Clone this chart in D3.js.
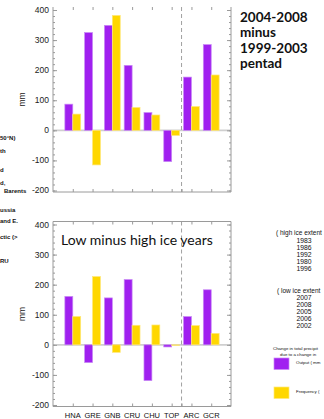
<!DOCTYPE html>
<html>
<head>
<meta charset="utf-8">
<script src="https://cdn.jsdelivr.net/npm/d3@7"></script>
<style>
  body { margin: 0; background: #fff; }
  svg { display: block; }
</style>
</head>
<body>
<div id="chart"></div>
<script>
// data (mm)
const categories = ["HNA", "GRE", "GNB", "CRU", "CHU", "TOP", "ARC", "GCR"];
const pentadOutput = [87, 325, 349, 216, 59, -104, 177, 285];
const pentadFrequency = [54, -115, 382, 76, 51, -17, 79, 184];
const iceOutput = [161, -59, 156, 217, -119, -7, 94, 183];
const iceFrequency = [94, 227, -25, 65, 66, -2, 64, 38];
const yTicks = [-200, -100, 0, 100, 200, 300, 400];
const highIceYears = ["1983", "1986", "1992", "1980", "1996"];
const lowIceYears = ["2007", "2008", "2005", "2006", "2002"];
const pentadNote = ["2004-2008", "minus", "1999-2003", "pentad"];
const leftNotes = [
  ["50°N)", 0, 140], ["th", 0, 153], ["d", 0, 172], ["d,", 0, 185], ["Barents", 4, 193],
  ["ussia", 0, 212], ["and E.", 0, 223], ["ctic (>", 0, 239], ["RU", 0, 263]
];

const W = 324, H = 419;
const purple = "#a020f0", yellow = "#ffd700";
const frameColor = "#9a9a9a";

const svg = d3.select("#chart").append("svg")
  .attr("width", W).attr("height", H)
  .style("font-family", "'Liberation Sans', Arial, sans-serif");

// x scale: categories sit at 1..8, frame spans 0..9
const x = d3.scaleLinear().domain([0, 9]).range([53, 231]);
const barW = 0.4;

function drawPanel(top, bottom, output, frequency, showCats, hideTop) {
  const y = d3.scaleLinear().domain([-205, 410]).range([bottom, top]);
  const g = svg.append("g");

  // zero line
  g.append("line")
    .attr("x1", x(0)).attr("x2", x(9))
    .attr("y1", y(0)).attr("y2", y(0))
    .attr("stroke", "#cfcfcf").attr("stroke-width", 1.6);

  // bars
  const bars = g.append("g");
  bars.selectAll(".out").data(output).enter().append("rect")
    .attr("x", (d, i) => x(i + 1 - barW))
    .attr("width", x(barW) - x(0))
    .attr("y", d => y(Math.max(0, d)))
    .attr("height", d => Math.abs(y(d) - y(0)))
    .attr("fill", purple)
    .attr("stroke", "#c88af5").attr("stroke-width", 0.7);
  bars.selectAll(".freq").data(frequency).enter().append("rect")
    .attr("x", (d, i) => x(i + 1))
    .attr("width", x(barW) - x(0))
    .attr("y", d => y(Math.max(0, d)))
    .attr("height", d => Math.abs(y(d) - y(0)))
    .attr("fill", yellow)
    .attr("stroke", "#ffe77a").attr("stroke-width", 0.7);

  // dashed separator between station groups and area averages
  g.append("line")
    .attr("x1", x(6.5)).attr("x2", x(6.5))
    .attr("y1", top).attr("y2", bottom)
    .attr("stroke", "#a0a0a0").attr("stroke-dasharray", "4,3");

  // frame
  const fr = g.append("g").attr("stroke", frameColor).attr("fill", "none");
  fr.append("line").attr("x1", x(0)).attr("x2", x(0)).attr("y1", top).attr("y2", bottom);
  fr.append("line").attr("x1", x(9)).attr("x2", x(9)).attr("y1", top).attr("y2", bottom);
  fr.append("line").attr("x1", x(0)).attr("x2", x(9)).attr("y1", bottom).attr("y2", bottom);
  if (!hideTop) fr.append("line").attr("x1", x(0)).attr("x2", x(9)).attr("y1", top).attr("y2", top);

  // left and right axes with inward ticks
  const minor = d3.range(-200, 401, 20);
  const left = g.append("g").attr("transform", `translate(${x(0)},0)`)
    .call(d3.axisRight(y).tickValues(minor).tickSize(2).tickFormat(""));
  const right = g.append("g").attr("transform", `translate(${x(9)},0)`)
    .call(d3.axisLeft(y).tickValues(minor).tickSize(2).tickFormat(""));
  const leftMajor = g.append("g").attr("transform", `translate(${x(0)},0)`)
    .call(d3.axisRight(y).tickValues(yTicks).tickSize(4).tickFormat(""));
  const rightMajor = g.append("g").attr("transform", `translate(${x(9)},0)`)
    .call(d3.axisLeft(y).tickValues(yTicks).tickSize(4).tickFormat(""));
  [left, right, leftMajor, rightMajor].forEach(a => {
    a.select(".domain").remove();
    a.selectAll("line").attr("stroke", frameColor);
  });

  // y labels
  g.append("g").selectAll("text").data(yTicks).enter().append("text")
    .attr("x", x(0) - 4).attr("y", d => y(d) + 3)
    .attr("text-anchor", "end").attr("font-size", 8.5).attr("fill", "#222")
    .text(d => d);

  // category ticks top and bottom
  const ticks = d3.range(1, 9).concat([6.5]);
  const bAxis = g.append("g").attr("transform", `translate(0,${bottom})`)
    .call(d3.axisTop(x).tickValues(ticks).tickSize(3).tickFormat(""));
  const tAxis = g.append("g").attr("transform", `translate(0,${top})`)
    .call(d3.axisBottom(x).tickValues(d3.range(1, 9)).tickSize(3).tickFormat(""));
  [bAxis, tAxis].forEach(a => {
    a.select(".domain").remove();
    a.selectAll("line").attr("stroke", frameColor);
  });

  if (showCats) {
    g.append("g").selectAll("text").data(categories).enter().append("text")
      .attr("x", (d, i) => x(i + 1)).attr("y", bottom + 11)
      .attr("text-anchor", "middle").attr("font-size", 7.5).attr("fill", "#111")
      .text(d => d);
  }

  // axis title
  g.append("text")
    .attr("transform", `translate(25,${(top + bottom) / 2}) rotate(-90)`)
    .attr("text-anchor", "middle").attr("font-size", 8.5).attr("fill", "#222")
    .text("mm");
  return y;
}

drawPanel(7, 192, pentadOutput, pentadFrequency, false, true);
drawPanel(221.5, 406.5, iceOutput, iceFrequency, true, false);

// panel notes
svg.append("g").selectAll("text").data(pentadNote).enter().append("text")
  .attr("x", 240).attr("y", (d, i) => 21.5 + i * 15.6)
  .attr("font-family", "Lato, 'Open Sans', sans-serif")
  .attr("font-weight", "bold").attr("font-size", 13.5).attr("fill", "#111")
  .text(d => d);

svg.append("text")
  .attr("x", 61).attr("y", 245)
  .attr("font-family", "Lato, 'Open Sans', sans-serif")
  .attr("font-size", 14).attr("fill", "#111")
  .text("Low minus high ice years");

// cut-off legend text on the left edge
svg.append("g").selectAll("text").data(leftNotes).enter().append("text")
  .attr("x", d => d[1]).attr("y", d => d[2])
  .attr("font-size", 6).attr("font-weight", "bold").attr("fill", "#111")
  .text(d => d[0]);

// cut-off year lists and legend on the right edge
const rightG = svg.append("g").attr("fill", "#111");
rightG.append("text").attr("x", 276).attr("y", 235).attr("font-size", 6.5).text("( high ice extent");
rightG.selectAll(".hy").data(highIceYears).enter().append("text")
  .attr("x", 304).attr("y", (d, i) => 242.5 + i * 7)
  .attr("text-anchor", "middle").attr("font-size", 6.8).text(d => d);
rightG.append("text").attr("x", 277).attr("y", 292.5).attr("font-size", 6.5).text("( low ice extent");
rightG.selectAll(".ly").data(lowIceYears).enter().append("text")
  .attr("x", 304).attr("y", (d, i) => 300 + i * 7)
  .attr("text-anchor", "middle").attr("font-size", 6.8).text(d => d);

rightG.append("text").attr("x", 273).attr("y", 350).attr("font-size", 4.4).text("Change in total precipit");
rightG.append("text").attr("x", 280).attr("y", 355.5).attr("font-size", 4.4).text("due to a change in");
rightG.append("rect").attr("x", 274).attr("y", 358).attr("width", 15).attr("height", 11.5)
  .attr("fill", purple).attr("stroke", "#c88af5").attr("stroke-width", 0.7);
rightG.append("text").attr("x", 296).attr("y", 363.5).attr("font-size", 4.4).text("Output ( mm");
rightG.append("rect").attr("x", 274).attr("y", 387).attr("width", 15).attr("height", 11.5)
  .attr("fill", yellow).attr("stroke", "#ffe77a").attr("stroke-width", 0.7);
rightG.append("text").attr("x", 296).attr("y", 393).attr("font-size", 4.4).text("Frequency (");
</script>
</body>
</html>
